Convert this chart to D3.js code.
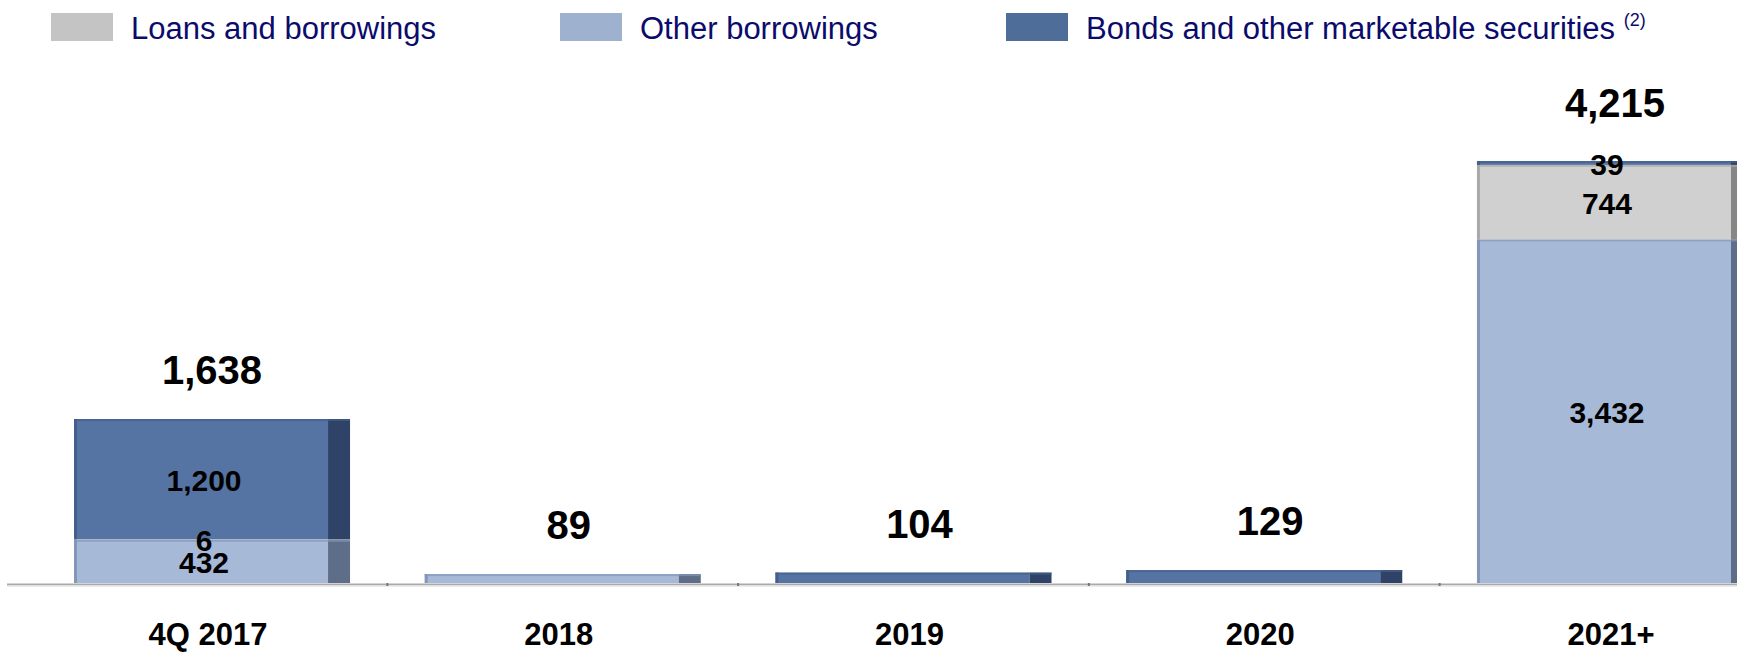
<!DOCTYPE html>
<html>
<head>
<meta charset="utf-8">
<script src="https://cdn.jsdelivr.net/npm/d3@7"></script>
<style>
    body { margin: 0; background: #ffffff; }
    svg text { font-family: Arial, "Liberation Sans", sans-serif; }
</style>
</head>
<body>
<div id="chart"></div>
<script>
    var categories = ["4Q 2017", "2018", "2019", "2020", "2021+"];
    var otherBorrowings = [432, 89, 0, 0, 3432];
    var loansAndBorrowings = [6, 0, 0, 0, 744];
    var bonds = [1200, 0, 104, 129, 39];
    var seriesNames = ["Loans and borrowings", "Other borrowings", "Bonds and other marketable securities"];

    var width = 1737, height = 652;
    var baseY = 583, topY = 161;
    var sideWidth = 22;

    // stacking order from the bottom up
    var stackOrder = [
        { key: "other", values: otherBorrowings, face: "#a6b9d7", side: "#5f6e88", edge: "#8297ba" },
        { key: "loans", values: loansAndBorrowings, face: "#d0d0d0", side: "#868686", edge: "#a9a9a9" },
        { key: "bonds", values: bonds, face: "#5574a3", side: "#2f4368", edge: "#445f8c" }
    ];
    var legendItems = [
        { name: seriesNames[0], color: "#c4c4c4", x: 51 },
        { name: seriesNames[1], color: "#9eb1cf", x: 560 },
        { name: seriesNames[2], color: "#4f6d99", x: 1006, note: "(2)" }
    ];

    var fmt = d3.format(",");

    function buildRows() {
        return categories.map(function (c, i) {
            var y0 = 0;
            var segs = stackOrder.map(function (s) {
                var seg = { key: s.key, value: s.values[i], y0: y0, y1: y0 + s.values[i], style: s };
                y0 += s.values[i];
                return seg;
            }).filter(function (s) { return s.value > 0; });
            return { category: c, total: y0, segments: segs };
        });
    }

    function drawLegend(svg) {
        var g = svg.append("g");
        legendItems.forEach(function (d) {
            g.append("rect")
                .attr("x", d.x)
                .attr("y", 13)
                .attr("width", 62)
                .attr("height", 28)
                .attr("fill", d.color);
            var t = g.append("text")
                .attr("x", d.x + 80)
                .attr("y", 39)
                .attr("font-size", "31px")
                .attr("fill", "#0b0b6b")
                .text(d.name + " ");
            if (d.note) {
                t.append("tspan")
                    .attr("font-size", "18px")
                    .attr("dy", "-13")
                    .text(d.note);
            }
        });
    }

    function drawChart() {
        var rows = buildRows();

        var svg = d3.select("#chart")
            .append("svg")
            .attr("width", width)
            .attr("height", height);

        var x = d3.scaleBand()
            .domain(categories)
            .range([74, 1753])
            .paddingInner(0.213)
            .paddingOuter(0);

        var y = d3.scaleLinear()
            .domain([0, d3.max(rows, function (r) { return r.total; })])
            .range([baseY, topY]);

        drawLegend(svg);

        // baseline
        svg.append("line")
            .attr("x1", 7).attr("x2", width)
            .attr("y1", baseY + 1.5).attr("y2", baseY + 1.5)
            .attr("stroke", "#a9a9a9")
            .attr("stroke-width", 2);
        svg.append("line")
            .attr("x1", 7).attr("x2", width)
            .attr("y1", baseY + 3).attr("y2", baseY + 3)
            .attr("stroke", "#e6e6e6")
            .attr("stroke-width", 1.5);
        svg.selectAll(".tick-mark")
            .data(categories.slice(1))
            .enter().append("rect")
            .attr("class", "tick-mark")
            .attr("x", function (d) { return x(d) - x.step() * x.paddingInner() / 2 - 1; })
            .attr("y", baseY)
            .attr("width", 2)
            .attr("height", 3)
            .attr("fill", "#777");

        var bars = svg.selectAll(".bar")
            .data(rows)
            .enter().append("g")
            .attr("class", "bar");

        bars.each(function (r) {
            var g = d3.select(this);
            var bx = x(r.category);
            var bw = x.bandwidth();
            r.segments.forEach(function (s) {
                var yTop = y(s.y1), yBot = y(s.y0);
                g.append("rect")
                    .attr("x", bx)
                    .attr("y", yTop)
                    .attr("width", bw - sideWidth)
                    .attr("height", yBot - yTop)
                    .attr("fill", s.style.face);
                g.append("rect")
                    .attr("x", bx + bw - sideWidth)
                    .attr("y", yTop)
                    .attr("width", sideWidth)
                    .attr("height", yBot - yTop)
                    .attr("fill", s.style.side);
                // darker left edge and light top rim
                g.append("rect")
                    .attr("x", bx)
                    .attr("y", yTop)
                    .attr("width", 3)
                    .attr("height", yBot - yTop)
                    .attr("fill", s.style.edge);
                g.append("rect")
                    .attr("x", bx)
                    .attr("y", yTop)
                    .attr("width", bw)
                    .attr("height", Math.min(2, yBot - yTop))
                    .attr("fill", s.style.edge)
                    .attr("opacity", 0.7);
            });

            // segment labels only where a bar has several parts
            var labelled = r.segments.length > 1;
            var bump = 0;
            if (labelled) {
                r.segments.forEach(function (s) {
                    g.append("text")
                        .attr("x", bx + bw / 2 - 8)
                        .attr("y", (y(s.y0) + y(s.y1)) / 2 + 1)
                        .attr("dy", "0.36em")
                        .attr("text-anchor", "middle")
                        .attr("font-size", "30px")
                        .attr("font-weight", "bold")
                        .attr("fill", "#000")
                        .text(fmt(s.value));
                });
                var topSeg = r.segments[r.segments.length - 1];
                if (y(topSeg.y0) - y(topSeg.y1) < 30) bump = 9;
            }

            g.append("text")
                .attr("x", bx + bw / 2 + (r.segments.length > 1 ? 0 : 6))
                .attr("y", y(r.total) - 35 - bump)
                .attr("text-anchor", "middle")
                .attr("font-size", "40px")
                .attr("font-weight", "bold")
                .attr("fill", "#000")
                .text(fmt(r.total));

            g.append("text")
                .attr("x", bx + bw / 2 - 4)
                .attr("y", 645)
                .attr("text-anchor", "middle")
                .attr("font-size", "31px")
                .attr("font-weight", "bold")
                .attr("fill", "#000")
                .text(r.category);
        });
    }

    drawChart();
</script>
</body>
</html>
